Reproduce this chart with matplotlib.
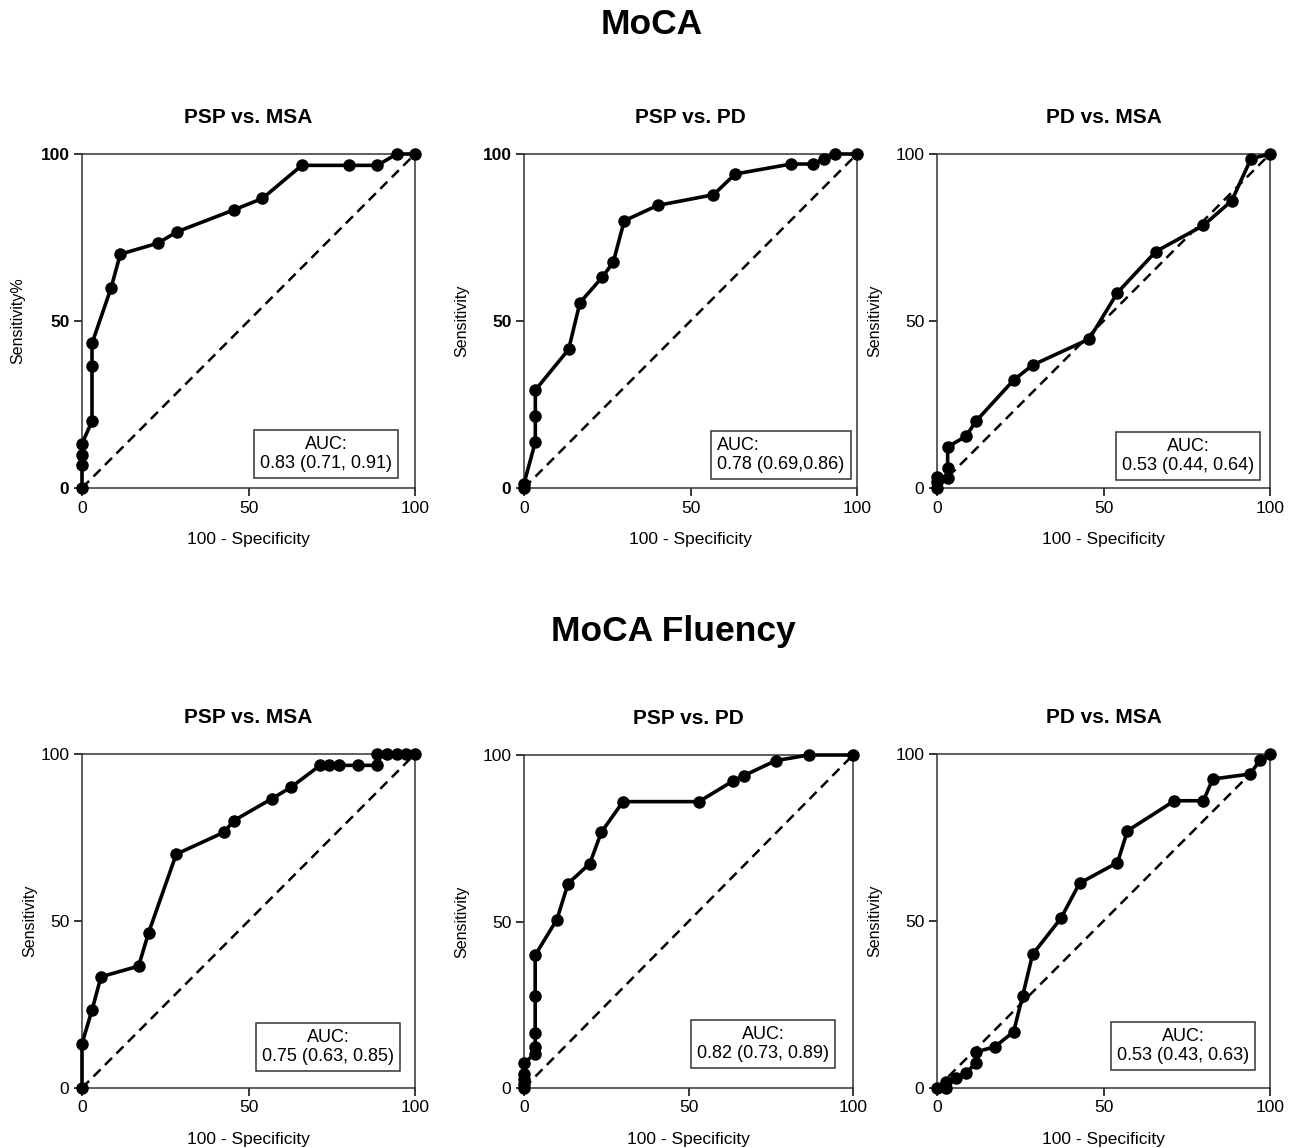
import matplotlib
matplotlib.use("Agg")
import matplotlib.pyplot as plt

plt.rcParams["font.family"] = ["Liberation Sans", "DejaVu Sans"]

# ROC points (100 - specificity, sensitivity)
moca_psp_msa_x = [0, 0, 0, 0, 3, 3, 3, 8.7, 11.5, 22.8, 28.5, 45.7, 54.2, 66, 80.2, 88.7, 94.5, 100]
moca_psp_msa_y = [0, 6.8, 10, 13.3, 20, 36.5, 43.3, 59.8, 70, 73.3, 76.7, 83.3, 86.7, 96.6, 96.6, 96.6, 100, 100]

moca_psp_pd_x = [0, 0, 3.4, 3.4, 3.4, 13.4, 16.8, 23.5, 26.8, 30.1, 40.1, 56.9, 63.4, 80.2, 86.8, 90.2, 93.5, 100]
moca_psp_pd_y = [0, 1.3, 13.8, 21.5, 29.3, 41.5, 55.5, 63.1, 67.6, 80, 84.6, 87.8, 94, 97, 97, 98.6, 100, 100]

moca_pd_msa_x = [0, 0, 0, 3.2, 3.2, 3.2, 8.7, 11.7, 23, 28.7, 45.7, 54.2, 65.7, 80, 88.5, 94.3, 100]
moca_pd_msa_y = [0, 1.8, 3.3, 3, 6, 12.3, 15.5, 20, 32.3, 36.8, 44.6, 58.5, 70.8, 78.6, 86, 98.6, 100]

flu_psp_msa_x = [0, 0, 3, 5.7, 17, 20, 28.3, 42.7, 45.5, 57, 62.7, 71.5, 74.2, 77.2, 83, 88.7,
                 88.7, 91.5, 94.5, 97.2, 100]
flu_psp_msa_y = [0, 13.3, 23.3, 33.3, 36.5, 46.5, 70, 76.6, 80, 86.6, 90, 96.6, 96.6, 96.6, 96.6, 96.6,
                 100, 100, 100, 100, 100]

flu_psp_pd_x = [0, 0, 0, 0, 0, 3.4, 3.4, 3.4, 3.4, 3.4, 10, 13.4, 20, 23.5, 30.1, 53.2, 63.5, 66.8,
                76.5, 86.6, 100]
flu_psp_pd_y = [0, 1.3, 2.8, 4.3, 7.5, 10.3, 12.3, 16.6, 27.6, 39.9, 50.6, 61.4, 67.4, 76.8, 86, 86,
                92.2, 93.8, 98.3, 100, 100]

flu_pd_msa_x = [0, 2.8, 2.8, 5.8, 8.7, 11.7, 11.7, 17.3, 23, 25.7, 28.7, 37.2, 42.8, 54.2, 57.2,
                71.3, 80, 82.8, 94, 97, 100]
flu_pd_msa_y = [0, 0, 1.8, 3, 4.5, 7.5, 10.8, 12.3, 16.8, 27.5, 40, 50.8, 61.3, 67.5, 77, 86, 86,
                92.5, 94, 98.1, 100]

titles = ["PSP vs. MSA", "PSP vs. PD", "PD vs. MSA"]
ylabels = ["Sensitivity%", "Sensitivity", "Sensitivity", "Sensitivity", "Sensitivity", "Sensitivity"]
auc_text = ["AUC:\n0.83 (0.71, 0.91)", "AUC:\n0.78 (0.69,0.86)", "AUC:\n0.53 (0.44, 0.64)",
            "AUC:\n0.75 (0.63, 0.85)", "AUC:\n0.82 (0.73, 0.89)", "AUC:\n0.53 (0.43, 0.63)"]
curves = [(moca_psp_msa_x, moca_psp_msa_y), (moca_psp_pd_x, moca_psp_pd_y),
          (moca_pd_msa_x, moca_pd_msa_y), (flu_psp_msa_x, flu_psp_msa_y),
          (flu_psp_pd_x, flu_psp_pd_y), (flu_pd_msa_x, flu_pd_msa_y)]

W, H = 1300, 1148
fig = plt.figure(figsize=(W / 100, H / 100), dpi=100)

# axes boxes in pixels: left, right, top, bottom
boxes = [(82, 415, 154, 488), (524, 857, 154, 488), (937, 1270, 154, 488),
         (82, 415, 754, 1088), (524, 853, 755, 1088), (937, 1270, 754, 1088)]
# AUC box anchor (px) and alignment
auc_pos = [(326, 454, "center"), (717, 455, "left"), (1188, 456, "center"),
           (328, 1047, "center"), (763, 1044, "center"), (1183, 1046, "center")]
ylab_x = [25, 469, 882, 37, 469, 882]
bold_yticks = [True, True, False, False, False, False]

for i, (x, y) in enumerate(curves):
    l, r, t, b = boxes[i]
    ax = fig.add_axes([l / W, 1 - b / H, (r - l) / W, (b - t) / H])
    ax.plot([0, 100], [0, 100], ls=(0, (4, 2.5)), color="black", lw=1.8, zorder=2)
    ax.plot(x, y, color="black", lw=2.6, marker="o", ms=8, clip_on=False, zorder=3)
    ax.set_xlim(0, 100)
    ax.set_ylim(0, 100)
    ax.set_xticks([0, 50, 100])
    ax.set_yticks([0, 50, 100])
    for s in ax.spines.values():
        s.set_linewidth(1.1)
        s.set_color("#333333")
    ax.tick_params(direction="out", length=6, width=1.1, labelsize=12.5, pad=3)
    if bold_yticks[i]:
        for lab in ax.get_yticklabels():
            lab.set_fontweight("bold")
    ax.set_title(titles[i % 3], fontsize=15, fontweight="bold", pad=22)
    ax.set_xlabel("100 - Specificity", fontsize=12.5, labelpad=12)
    ax.set_ylabel(ylabels[i], fontsize=11.5)
    ax.yaxis.set_label_coords((ylab_x[i] - l) / (r - l), 0.5)
    cx, cy, ha = auc_pos[i]
    ax.text((cx - l) / (r - l), (b - cy) / (b - t), auc_text[i], transform=ax.transAxes,
            ha=ha, va="center", multialignment=ha, fontsize=13, linespacing=1.15, zorder=4,
            bbox=dict(boxstyle="square,pad=0.35", fc="white", ec="#333333", lw=1.1))

fig.text(652 / W, 1 - 25 / H, "MoCA", ha="center", va="center", fontsize=25.5, fontweight="bold")
fig.text(673 / W, 1 - 632 / H, "MoCA Fluency", ha="center", va="center", fontsize=25.5, fontweight="bold")

fig.savefig("out.png", dpi=100)
